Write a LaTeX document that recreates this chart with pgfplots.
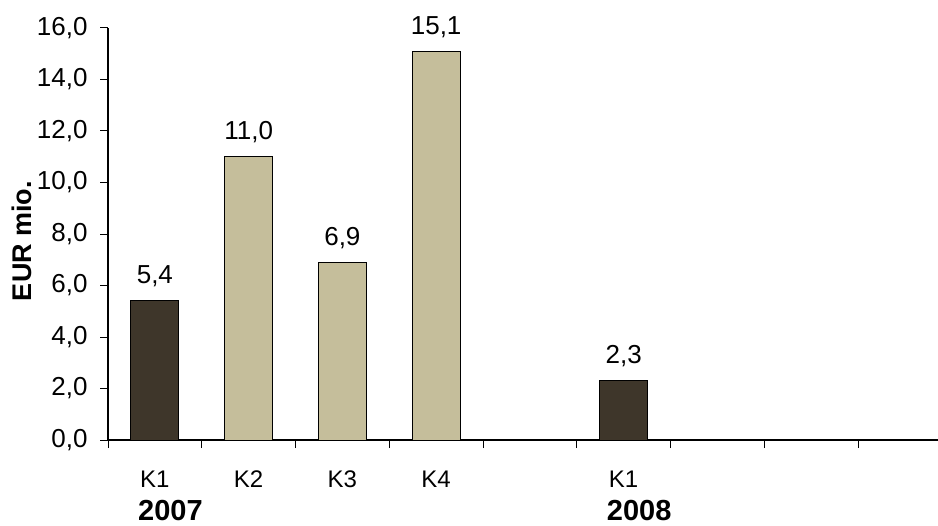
\documentclass[border=0pt]{standalone}
\usepackage{pgfplots}
\pgfplotsset{compat=1.18}
\usepackage{fontspec}
\setmainfont{Liberation Sans}
\definecolor{darkbar}{RGB}{62,54,42}
\definecolor{tanbar}{RGB}{197,190,155}
\begin{document}
\begin{tikzpicture}
\begin{axis}[
  scale only axis,
  width=830pt, height=412pt,
  xmin=0.5, xmax=9.353,
  ymin=0, ymax=16,
  axis x line*=bottom,
  axis y line*=left,
  x axis line style={line width=1.8pt},
  y axis line style={line width=1.2pt},
  tick align=outside,
  major tick length=8pt,
  tick style={line width=1pt, black},
  xtick={0.5,1.5,...,8.5},
  xticklabels={},
  ytick={0,2,...,16},
  yticklabel style={font=\fontsize{26}{30}\selectfont, xshift=-9pt},
  /pgf/number format/.cd, fixed, fixed zerofill, precision=1, use comma, assume math mode=true,
  /pgfplots/.cd,
  ybar, bar width=48pt,
  clip=false,
  nodes near coords,
  nodes near coords style={font=\fontsize{26}{30}\selectfont, anchor=base, yshift=17pt},
]
\addplot[bar shift=0pt, fill=darkbar, draw=black, line width=1pt] coordinates {(1,5.4) (6,2.3)};
\addplot[bar shift=0pt, fill=tanbar, draw=black, line width=1pt] coordinates {(2,11.0) (3,6.9) (4,15.1)};
\node[anchor=base, font=\fontsize{24}{28}\selectfont, yshift=-47pt] at (axis cs:1,0) {K1};
\node[anchor=base, font=\fontsize{24}{28}\selectfont, yshift=-47pt] at (axis cs:2,0) {K2};
\node[anchor=base, font=\fontsize{24}{28}\selectfont, yshift=-47pt] at (axis cs:3,0) {K3};
\node[anchor=base, font=\fontsize{24}{28}\selectfont, yshift=-47pt] at (axis cs:4,0) {K4};
\node[anchor=base, font=\fontsize{24}{28}\selectfont, yshift=-47pt] at (axis cs:6,0) {K1};
\node[anchor=base west, inner sep=0pt, font=\fontsize{29}{33}\selectfont\bfseries, yshift=-80pt] at (axis cs:0.82,0) {2007};
\node[anchor=base west, inner sep=0pt, font=\fontsize{29}{33}\selectfont\bfseries, yshift=-80pt] at (axis cs:5.82,0) {2008};
\end{axis}
\node[rotate=90, anchor=center, font=\fontsize{27}{31}\selectfont\bfseries] at ([xshift=-86pt, yshift=-7pt]current axis.west) {EUR mio.};
\pgfresetboundingbox
\path ([xshift=-108pt,yshift=-85pt]current axis.south west) rectangle ([yshift=28pt]current axis.north east);
\end{tikzpicture}
\end{document}
